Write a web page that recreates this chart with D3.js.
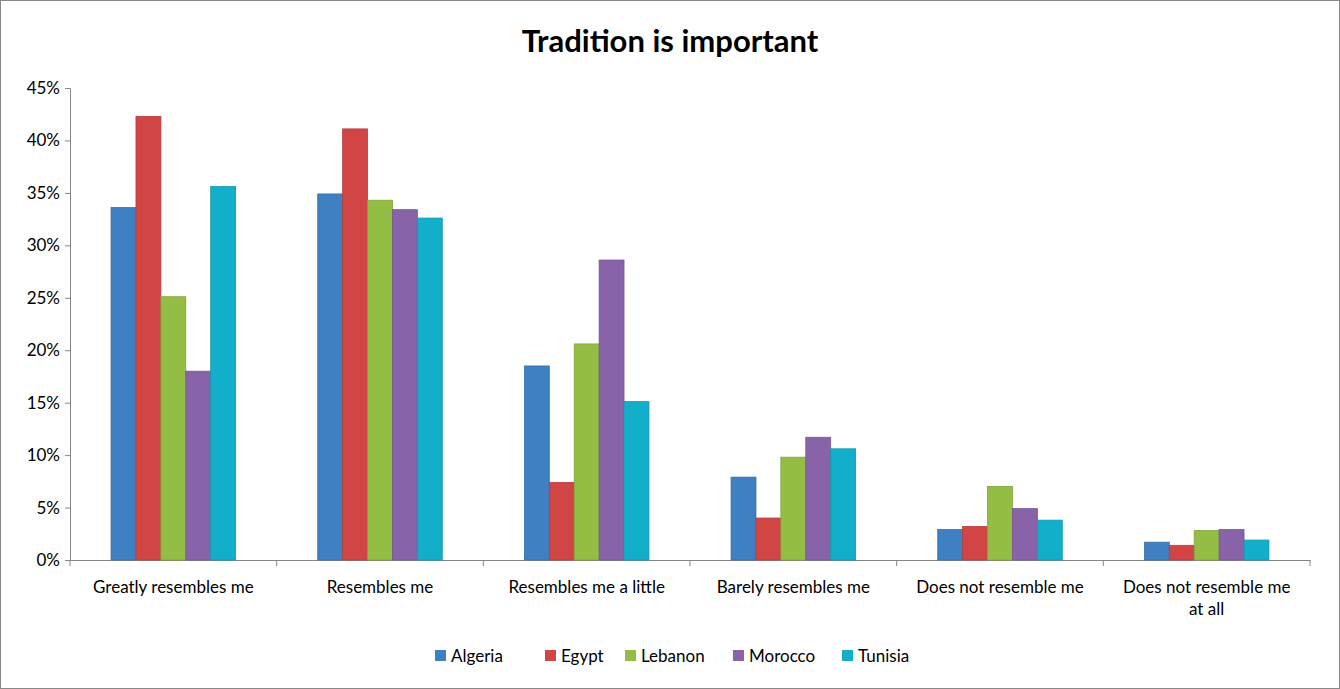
<!DOCTYPE html>
<html><head><meta charset="utf-8">
<script src="https://cdn.jsdelivr.net/npm/d3@7"></script>
<style>body{margin:0;background:#fff}svg text{font-family:Lato,"Open Sans",sans-serif;fill:#000}</style>
</head><body><div id="chart"></div>
<script>
var categories = ["Greatly resembles me","Resembles me","Resembles me a little","Barely resembles me","Does not resemble me","Does not resemble me at all"];
var series = ["Algeria","Egypt","Lebanon","Morocco","Tunisia"];
var colors = ["#3E80C2","#D24545","#93BD44","#8863A9","#13AECA"];
var algeria = [33.6,34.9,18.5,7.9,2.9,1.7];
var egypt = [42.3,41.1,7.4,4.0,3.2,1.4];
var lebanon = [25.1,34.3,20.6,9.8,7.0,2.8];
var morocco = [18.0,33.4,28.6,11.7,4.9,2.9];
var tunisia = [35.6,32.6,15.1,10.6,3.8,1.9];
var values = [algeria,egypt,lebanon,morocco,tunisia];
var yTicks = [0,5,10,15,20,25,30,35,40,45];

var W=1340,H=689,m={l:70,r:1310,t:88,b:560};
var svg=d3.select("#chart").append("svg").attr("width",W).attr("height",H);
svg.append("rect").attr("x",0.5).attr("y",0.5).attr("width",W-1).attr("height",H-1).attr("fill","#fff").attr("stroke","#888");
svg.append("text").attr("x",670).attr("y",52).attr("text-anchor","middle").attr("font-size",31).attr("font-weight","bold").text("Tradition is important");

var x=d3.scaleBand().domain(categories).range([m.l,m.r]);
var xi=d3.scaleBand().domain(series).range([0,x.bandwidth()]).paddingOuter(1.45/2*1.0).paddingInner(0);
xi.range([23,x.bandwidth()-23]);
var y=d3.scaleLinear().domain([0,45]).range([m.b,m.t]);

var ya=svg.append("g").attr("transform","translate("+m.l+",0)")
  .call(d3.axisLeft(y).tickValues(yTicks).tickFormat(function(d){return d+"%";}).tickSize(5));
ya.select(".domain").attr("stroke","#868686");
ya.selectAll("line").attr("stroke","#868686");
ya.selectAll("text").attr("font-size",17).attr("x",-10);

var xa=svg.append("g").attr("transform","translate(0,"+m.b+")")
  .call(d3.axisBottom(x).tickSize(0).tickFormat(""));
xa.select(".domain").attr("stroke","#868686");
categories.forEach(function(c,i){
  var xx=m.l+i*x.step();
  svg.append("line").attr("x1",xx+x.step()).attr("x2",xx+x.step()).attr("y1",m.b).attr("y2",m.b+6).attr("stroke","#868686");
});
svg.append("line").attr("x1",m.l).attr("x2",m.l).attr("y1",m.b).attr("y2",m.b+6).attr("stroke","#868686");
var lab=[["Greatly resembles me"],["Resembles me"],["Resembles me a little"],["Barely resembles me"],["Does not resemble me"],["Does not resemble me","at all"]];
categories.forEach(function(c,i){
  var t=svg.append("text").attr("x",x(c)+x.bandwidth()/2).attr("y",593).attr("text-anchor","middle").attr("font-size",17);
  lab[i].forEach(function(s,j){t.append("tspan").attr("x",x(c)+x.bandwidth()/2).attr("dy",j?22:0).text(s);});
});

series.forEach(function(s,k){
  svg.append("g").selectAll("rect").data(values[k]).join("rect")
    .attr("x",function(d,i){return x(categories[i])+xi(s);})
    .attr("width",xi.bandwidth())
    .attr("y",function(d){return y(d);})
    .attr("height",function(d){return y(0)-y(d);})
    .attr("fill",colors[k]).attr("stroke",d3.color(colors[k]).darker(0.4)).attr("stroke-width",0.8);
});

var lx=[435,545,625,733,842];
series.forEach(function(s,k){
  svg.append("rect").attr("x",lx[k]).attr("y",650).attr("width",11).attr("height",11).attr("fill",colors[k]);
  svg.append("text").attr("x",lx[k]+16).attr("y",662).attr("font-size",17).text(s);
});
</script></body></html>
